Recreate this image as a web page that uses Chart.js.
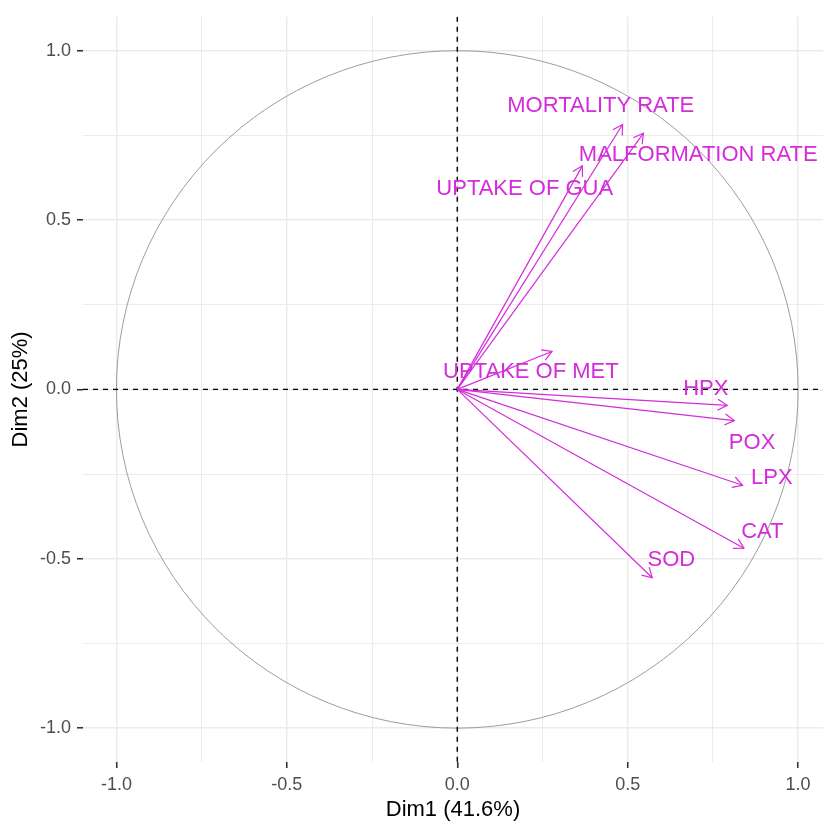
<!DOCTYPE html>
<html>
<head>
<meta charset="utf-8">
<script src="https://cdn.jsdelivr.net/npm/chart.js@4"></script>
<style>
  html, body { margin: 0; padding: 0; background: #fff; }
</style>
</head>
<body>
<canvas id="chart" width="823" height="821"></canvas>
<script>
// PCA variables: correlation with Dim1 / Dim2
const variables = ['MORTALITY RATE', 'MALFORMATION RATE', 'UPTAKE OF GUA', 'UPTAKE OF MET', 'HPX', 'POX', 'LPX', 'CAT', 'SOD']
const dim1 = [0.485, 0.546, 0.367, 0.278, 0.792, 0.813, 0.837, 0.841, 0.572]
const dim2 = [0.782, 0.756, 0.660, 0.112, -0.047, -0.092, -0.283, -0.469, -0.556]

// where each label sits (data units)
const labelX = [0.421, 0.707, 0.198, 0.216, 0.729, 0.865, 0.923, 0.895, 0.628]
const labelY = [0.836, 0.692, 0.591, 0.051, 0.0, -0.157, -0.261, -0.421, -0.504]

const tickValues = [-1, -0.75, -0.5, -0.25, 0, 0.25, 0.5, 0.75, 1]

const MAGENTA = '#D42CDA'
const FONT = '"Liberation Sans", Arial, sans-serif'

const isMajor = (v) => Math.abs(v % 0.5) < 1e-9

const datasets = variables.map((name, i) => ({
  label: name,
  data: [{x: 0, y: 0}, {x: dim1[i], y: dim2[i]}],
  showLine: true,
  borderColor: MAGENTA,
  borderWidth: 1.2,
  pointRadius: 0,
  fill: false,
}))

const decor = {
  id: 'decor',
  beforeDatasetsDraw(chart) {
    const {ctx, chartArea: a, scales: {x, y}} = chart
    ctx.save()
    ctx.beginPath()
    ctx.rect(a.left, a.top, a.right - a.left, a.bottom - a.top)
    ctx.clip()

    // unit circle
    const cx = x.getPixelForValue(0)
    const cy = y.getPixelForValue(0)
    const rx = x.getPixelForValue(1) - cx
    const ry = cy - y.getPixelForValue(1)
    ctx.beginPath()
    ctx.ellipse(cx, cy, rx, ry, 0, 0, Math.PI * 2)
    ctx.strokeStyle = '#9c9c9c'
    ctx.lineWidth = 1
    ctx.stroke()

    // dashed zero lines
    ctx.setLineDash([5, 5])
    ctx.strokeStyle = '#000'
    ctx.lineWidth = 1.4
    ctx.beginPath()
    ctx.moveTo(a.left, cy)
    ctx.lineTo(a.right, cy)
    ctx.moveTo(cx, a.top)
    ctx.lineTo(cx, a.bottom)
    ctx.stroke()
    ctx.restore()
  },
  afterDatasetsDraw(chart) {
    const {ctx, scales: {x, y}} = chart
    ctx.save()

    // open arrow heads
    const len = 11
    const ang = Math.PI / 6
    ctx.strokeStyle = MAGENTA
    ctx.lineWidth = 1.2
    variables.forEach((name, i) => {
      const bx = x.getPixelForValue(0)
      const by = y.getPixelForValue(0)
      const tx = x.getPixelForValue(dim1[i])
      const ty = y.getPixelForValue(dim2[i])
      const t = Math.atan2(ty - by, tx - bx)
      ctx.beginPath()
      ctx.moveTo(tx - len * Math.cos(t - ang), ty - len * Math.sin(t - ang))
      ctx.lineTo(tx, ty)
      ctx.lineTo(tx - len * Math.cos(t + ang), ty - len * Math.sin(t + ang))
      ctx.stroke()
    })

    // labels
    ctx.fillStyle = MAGENTA
    ctx.font = '22px ' + FONT
    ctx.textAlign = 'center'
    ctx.textBaseline = 'middle'
    variables.forEach((name, i) => {
      ctx.fillText(name, x.getPixelForValue(labelX[i]), y.getPixelForValue(labelY[i]))
    })
    ctx.restore()
  },
}

const axis = (title, min, max) => ({
  type: 'linear',
  min,
  max,
  afterBuildTicks: (scale) => {
    scale.ticks = tickValues.map((v) => ({value: v}))
  },
  ticks: {
    autoSkip: false,
    maxRotation: 0,
    color: '#4D4D4D',
    font: {family: FONT, size: 18},
    callback: (v) => (isMajor(v) ? v.toFixed(1) : ''),
  },
  grid: {
    color: '#EBEBEB',
    lineWidth: (c) => (isMajor(c.tick.value) ? 1.5 : 1),
    tickColor: (c) => (isMajor(c.tick.value) ? '#333333' : 'rgba(0,0,0,0)'),
    tickWidth: 1.6,
    tickLength: 6,
  },
  border: {display: false},
  title: {
    display: true,
    text: title,
    color: '#000',
    font: {family: FONT, size: 22},
  },
})

const xAxis = axis('Dim1 (41.6%)', -1.098, 1.073)
xAxis.ticks.padding = 6
xAxis.title.padding = {top: 0, bottom: -2}
xAxis.afterFit = (scale) => {
  scale.height = 59
}

const yAxis = axis('Dim2 (25%)', -1.1, 1.1)
yAxis.ticks.padding = 6
yAxis.title.padding = {top: 8, bottom: 0}
yAxis.afterFit = (scale) => {
  scale.width = 83
}

new Chart(document.getElementById('chart'), {
  type: 'scatter',
  data: {datasets},
  options: {
    responsive: false,
    animation: false,
    layout: {padding: {top: 12, right: 0, bottom: 0, left: 0}},
    plugins: {
      legend: {display: false},
      tooltip: {enabled: false},
    },
    scales: {x: xAxis, y: yAxis},
  },
  plugins: [decor],
})
</script>
</body>
</html>
